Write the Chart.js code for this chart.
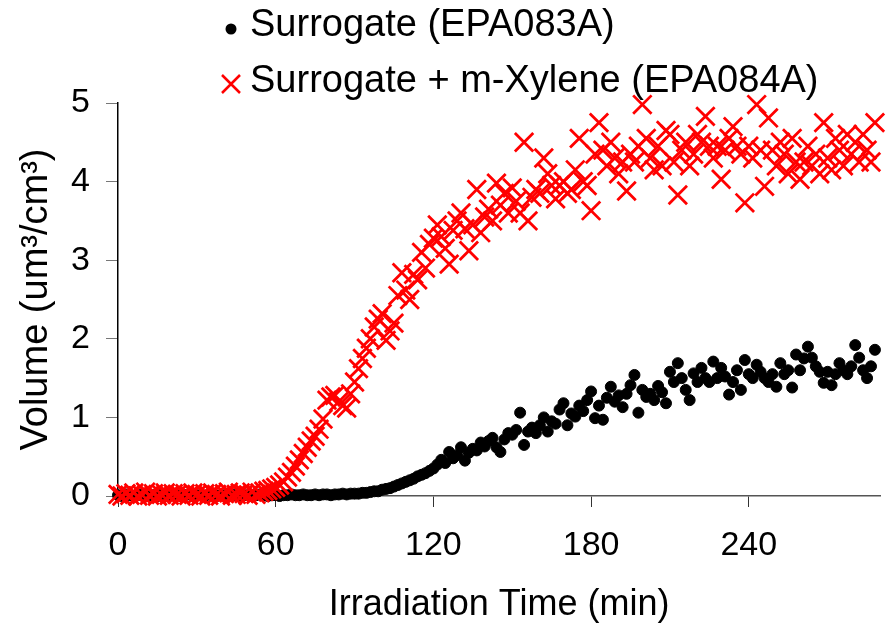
<!DOCTYPE html>
<html>
<head>
<meta charset="utf-8">
<script src="https://cdn.jsdelivr.net/npm/chart.js@4.4.1/dist/chart.umd.min.js"></script>
<style>
  html, body { margin: 0; padding: 0; background: #fff; }
  #wrap { width: 896px; height: 627px; }
</style>
</head>
<body>
<div id="wrap"><canvas id="volumeChart" width="896" height="627"></canvas></div>
<script>
// Temps d'irradiation (min)
const timeMin = [
  0, 1.5, 3, 4.5, 6, 7.5, 9, 10.5, 12, 13.5, 15, 16.5, 18, 19.5, 21, 22.5, 24, 25.5, 27, 28.5,
  30, 31.5, 33, 34.5, 36, 37.5, 39, 40.5, 42, 43.5, 45, 46.5, 48, 49.5, 51, 52.5, 54, 55.5, 57, 58.5,
  60, 61.5, 63, 64.5, 66, 67.5, 69, 70.5, 72, 73.5, 75, 76.5, 78, 79.5, 81, 82.5, 84, 85.5, 87, 88.5,
  90, 91.5, 93, 94.5, 96, 97.5, 99, 100.5, 102, 103.5, 105, 106.5, 108, 109.5, 111, 112.5, 114, 115.5, 117, 118.5,
  120, 121.5, 123, 124.5, 126, 127.5, 129, 130.5, 132, 133.5, 135, 136.5, 138, 139.5, 141, 142.5, 144, 145.5, 147, 148.5,
  150, 151.5, 153, 154.5, 156, 157.5, 159, 160.5, 162, 163.5, 165, 166.5, 168, 169.5, 171, 172.5, 174, 175.5, 177, 178.5,
  180, 181.5, 183, 184.5, 186, 187.5, 189, 190.5, 192, 193.5, 195, 196.5, 198, 199.5, 201, 202.5, 204, 205.5, 207, 208.5,
  210, 211.5, 213, 214.5, 216, 217.5, 219, 220.5, 222, 223.5, 225, 226.5, 228, 229.5, 231, 232.5, 234, 235.5, 237, 238.5,
  240, 241.5, 243, 244.5, 246, 247.5, 249, 250.5, 252, 253.5, 255, 256.5, 258, 259.5, 261, 262.5, 264, 265.5, 267, 268.5,
  270, 271.5, 273, 274.5, 276, 277.5, 279, 280.5, 282, 283.5, 285, 286.5, 288
];

// Surrogate (EPA083A)
const surrogateVol = [
  0.01, 0.00, 0.02, 0.01, 0.00, 0.01, 0.02, 0.00, 0.01, 0.01, 0.00, 0.02, 0.01, 0.00, 0.01, 0.01, 0.00, 0.01, 0.02, 0.00,
  0.01, 0.01, 0.00, 0.02, 0.01, 0.00, 0.01, 0.01, 0.00, 0.02, 0.01, 0.00, 0.01, 0.01, 0.00, 0.01, 0.02, 0.01, 0.00, 0.01,
  0.01, 0.00, 0.01, 0.01, 0.02, 0.01, 0.01, 0.02, 0.01, 0.01, 0.02, 0.01, 0.02, 0.02, 0.01, 0.02, 0.02, 0.03, 0.02, 0.03,
  0.03, 0.03, 0.04, 0.04, 0.05, 0.06, 0.06, 0.08, 0.09, 0.10, 0.12, 0.14, 0.16, 0.18, 0.20, 0.22, 0.25, 0.27, 0.29, 0.32,
  0.35, 0.40, 0.46, 0.42, 0.56, 0.48, 0.52, 0.62, 0.45, 0.55, 0.60, 0.58, 0.68, 0.63, 0.70, 0.74, 0.62, 0.56, 0.72, 0.80,
  0.78, 0.84, 1.06, 0.65, 0.82, 0.87, 0.80, 0.90, 1.00, 0.82, 0.95, 0.92, 1.10, 1.18, 0.90, 1.05, 1.01, 1.15, 1.08, 1.22,
  1.33, 0.99, 1.15, 0.97, 1.25, 1.39, 1.20, 1.28, 1.13, 1.30, 1.41, 1.54, 1.06, 1.35, 1.26, 1.30, 1.22, 1.40, 1.32, 1.18,
  1.58, 1.45, 1.69, 1.50, 1.35, 1.22, 1.56, 1.45, 1.63, 1.50, 1.45, 1.71, 1.50, 1.63, 1.52, 1.29, 1.45, 1.60, 1.35, 1.73,
  1.55, 1.50, 1.67, 1.58, 1.50, 1.45, 1.55, 1.39, 1.69, 1.55, 1.60, 1.38, 1.80, 1.60, 1.75, 1.90, 1.76, 1.65, 1.58, 1.44,
  1.58, 1.41, 1.55, 1.69, 1.60, 1.55, 1.65, 1.92, 1.76, 1.60, 1.50, 1.65, 1.86
];

// Surrogate + m-Xylene (EPA084A)
const xyleneVol = [
  0.02, 0.00, 0.03, 0.01, 0.04, 0.00, 0.02, 0.05, 0.01, 0.03, 0.00, 0.02, 0.04, 0.01, 0.03, 0.02, 0.00, 0.03, 0.01, 0.04,
  0.02, 0.00, 0.03, 0.01, 0.04, 0.02, 0.00, 0.03, 0.05, 0.01, 0.02, 0.04, 0.03, 0.01, 0.05, 0.02, 0.04, 0.06, 0.07, 0.09,
  0.11, 0.14, 0.18, 0.24, 0.30, 0.38, 0.46, 0.54, 0.62, 0.70, 0.76, 0.85, 0.98, 1.22, 1.26, 1.28, 1.20, 1.15, 1.12, 1.30,
  1.45, 1.62, 1.75, 1.88, 2.00, 2.15, 2.25, 2.32, 1.98, 2.10, 2.20, 2.55, 2.84, 2.62, 2.50, 2.82, 2.75, 3.10, 2.90, 3.20,
  3.28, 3.45, 3.30, 3.15, 2.95, 3.38, 3.50, 3.60, 3.40, 3.12, 3.45, 3.90, 3.35, 3.55, 3.65, 3.50, 3.98, 3.70, 3.85, 3.60,
  3.92, 3.75, 3.60, 4.50, 3.50, 3.80, 3.90, 3.85, 4.30, 4.10, 3.95, 3.78, 3.95, 4.00, 3.85, 3.90, 4.15, 4.55, 4.00, 3.95,
  3.63, 4.35, 4.75, 4.40, 4.20, 4.50, 4.30, 4.10, 4.25, 3.88, 4.35, 4.25, 4.45, 4.98, 4.55, 4.30, 4.15, 4.45, 4.20, 4.65,
  4.60, 4.25, 3.83, 4.40, 4.50, 4.20, 4.35, 4.60, 4.50, 4.83, 4.45, 4.30, 4.45, 4.03, 4.40, 4.55, 4.70, 4.45, 4.35, 3.73,
  4.45, 4.30, 4.98, 4.40, 3.94, 4.81, 4.40, 4.20, 4.50, 4.35, 4.10, 4.55, 4.25, 4.03, 4.25, 4.45, 4.20, 4.35, 4.10, 4.75,
  4.30, 4.15, 4.55, 4.40, 4.20, 4.60, 4.35, 4.50, 4.25, 4.60, 4.40, 4.25, 4.75
];

const xTicks = [0, 60, 120, 180, 240];

const FONT = 'Liberation Sans, Arial, sans-serif';

// Légende dessinée à la main (deux lignes alignées à gauche)
const manualLegend = {
    id: 'manualLegend',
    afterDraw(chart) {
        const ctx = chart.ctx;
        ctx.save();
        ctx.font = '38px ' + FONT;
        ctx.fillStyle = '#000';
        ctx.textBaseline = 'middle';
        ctx.textAlign = 'left';
        // point noir
        ctx.beginPath();
        ctx.arc(231, 29, 5.5, 0, Math.PI * 2);
        ctx.fill();
        ctx.fillText('Surrogate (EPA083A)', 250, 26);
        // croix rouge
        ctx.strokeStyle = '#FF0000';
        ctx.lineWidth = 2.5;
        ctx.beginPath();
        ctx.moveTo(222, 75); ctx.lineTo(240, 93);
        ctx.moveTo(240, 75); ctx.lineTo(222, 93);
        ctx.stroke();
        ctx.fillText('Surrogate + m-Xylene (EPA084A)', 250, 82);
        ctx.restore();
    }
};

new Chart(document.getElementById('volumeChart').getContext('2d'), {
    type: 'scatter',
    data: {
        datasets: [{
            label: 'Surrogate (EPA083A)',
            data: timeMin.map((t, i) => ({ x: t, y: surrogateVol[i] })),
            pointStyle: 'circle',
            pointRadius: 5.5,
            borderWidth: 1,
            backgroundColor: '#000',
            borderColor: '#000',
            clip: false,
            order: 1
        }, {
            label: 'Surrogate + m-Xylene (EPA084A)',
            data: timeMin.map((t, i) => ({ x: t, y: xyleneVol[i] })),
            pointStyle: 'crossRot',
            pointRadius: 13,
            borderWidth: 2.8,
            backgroundColor: '#FF0000',
            borderColor: '#FF0000',
            clip: false,
            order: 0
        }]
    },
    options: {
        responsive: false,
        animation: false,
        layout: {
            padding: { top: 103, right: 9, left: 0, bottom: 0 }
        },
        plugins: {
            legend: { display: false },
            tooltip: { enabled: false }
        },
        scales: {
            x: {
                type: 'linear',
                min: 0,
                max: 290,
                afterBuildTicks: (scale) => {
                    scale.ticks = xTicks.map(v => ({ value: v }));
                },
                afterFit: (scale) => { scale.height = 131; },
                grid: {
                    drawOnChartArea: false,
                    drawTicks: true,
                    tickLength: 11,
                    tickColor: '#333'
                },
                border: { color: '#555', width: 1.5 },
                ticks: {
                    color: '#000',
                    padding: 18,
                    maxRotation: 0,
                    font: { family: FONT, size: 34 }
                },
                title: {
                    display: true,
                    text: 'Irradiation Time (min)',
                    color: '#000',
                    padding: { top: 0, bottom: 0 },
                    font: { family: FONT, size: 36 }
                }
            },
            y: {
                min: 0,
                max: 5,
                afterFit: (scale) => { scale.width = 118; },
                grid: {
                    drawOnChartArea: false,
                    drawTicks: true,
                    tickLength: 12,
                    tickColor: '#777'
                },
                border: { color: '#000', width: 1.5 },
                ticks: {
                    stepSize: 1,
                    color: '#000',
                    padding: 16,
                    font: { family: FONT, size: 34 }
                },
                title: {
                    display: true,
                    text: 'Volume (um³/cm³)',
                    color: '#000',
                    padding: { top: 14, bottom: 0 },
                    font: { family: FONT, size: 38 }
                }
            }
        }
    },
    plugins: [manualLegend]
});
</script>
</body>
</html>
